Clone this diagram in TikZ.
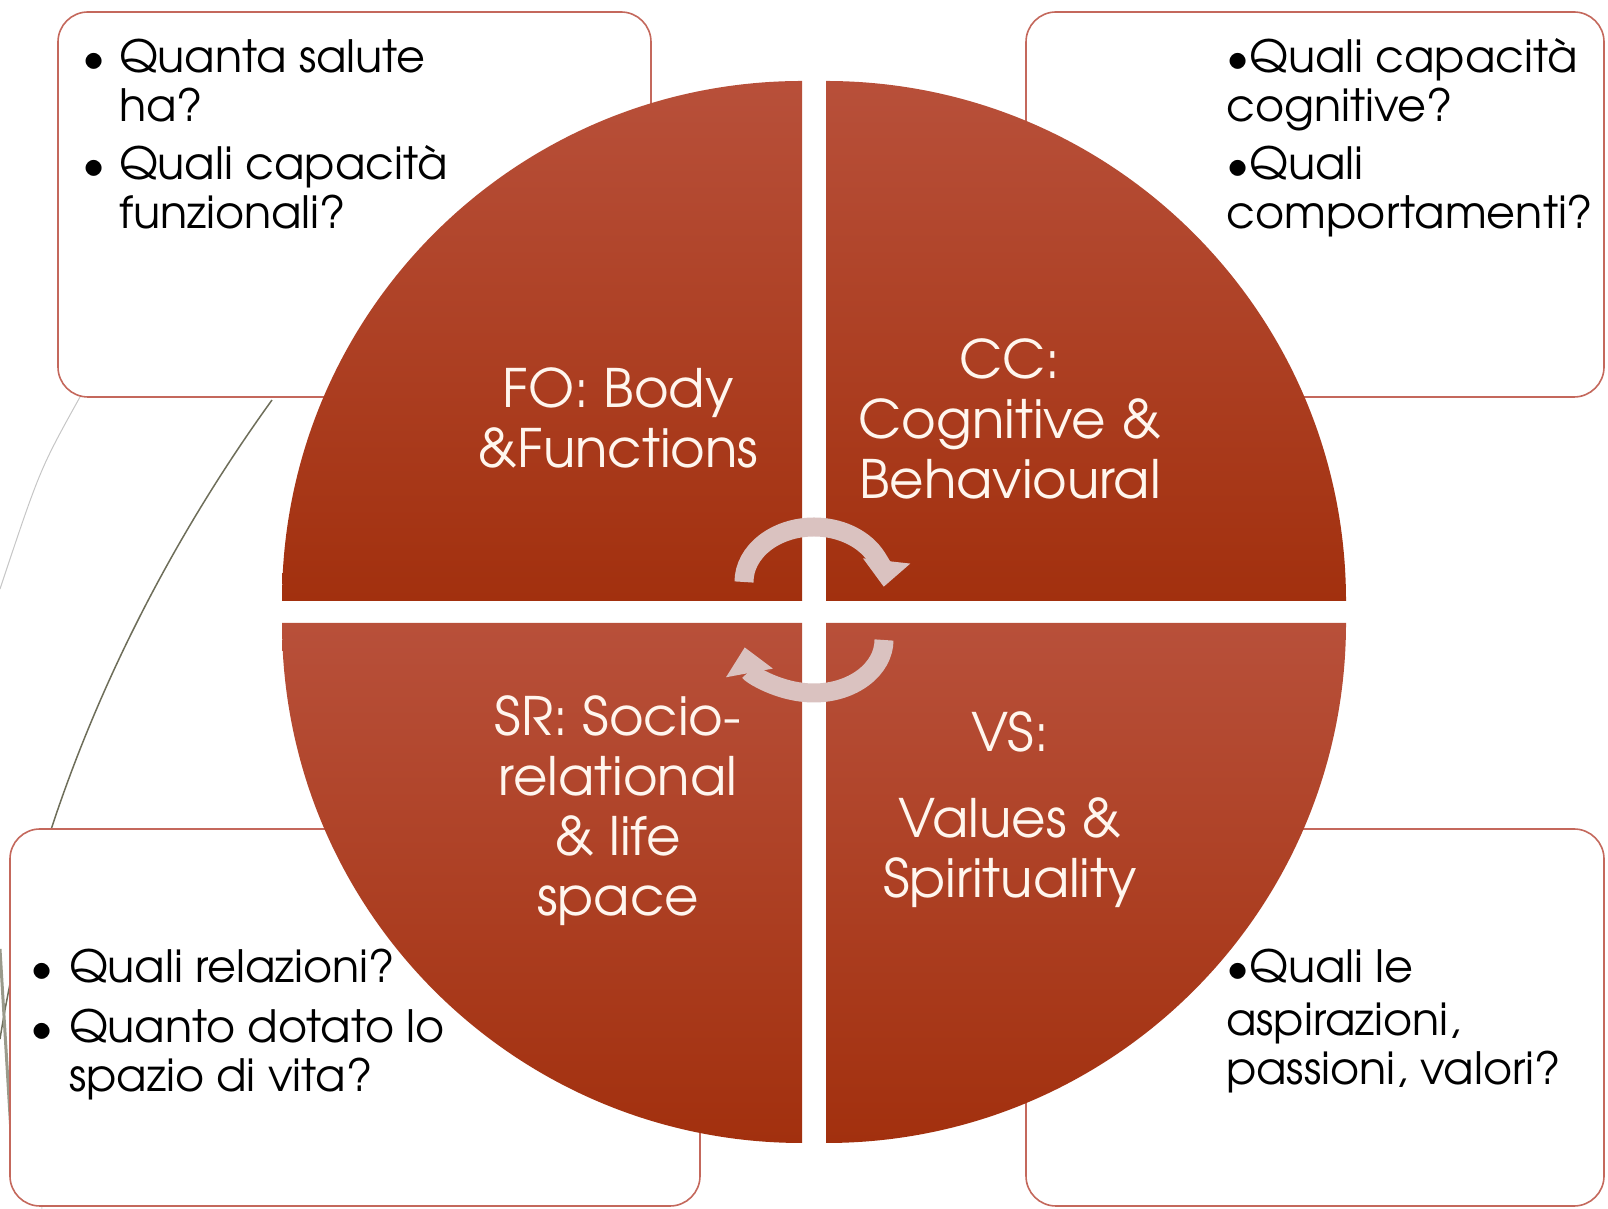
\documentclass[tikz,border=0pt]{standalone}
\usepackage{fontspec}
\setmainfont{TeX Gyre Adventor}
\usetikzlibrary{arrows.meta}

\definecolor{boxline}{RGB}{196,104,92}
\definecolor{pietop}{RGB}{184,80,58}
\definecolor{piebot}{RGB}{162,48,14}
\definecolor{turnfill}{RGB}{218,194,192}
\definecolor{pietext}{RGB}{255,246,238}
\definecolor{trunk}{RGB}{110,110,90}

\tikzset{
  qbox/.style={draw=boxline, line width=1.6pt, fill=white, rounded corners=30pt},
  pie/.style={top color=pietop, bottom color=piebot, draw=none},
  label/.style={text=pietext, anchor=base, inner sep=0pt,
    font=\fontsize{53}{60}\selectfont},
  ask/.style={text=black, anchor=base west, inner sep=0pt,
    font=\fontsize{44.5}{49}\selectfont},
  turn/.style={draw=turnfill, line width=19pt,
    -{Triangle[length=26pt,width=46pt]}}
}

\begin{document}
\begin{tikzpicture}[x=1pt,y=1pt]
  \useasboundingbox (0,0) rectangle (1608,1209);

  % background strokes
  \draw[gray!45, line width=1pt] (80,812) .. controls (40,740) .. (0,620);
  \draw[trunk, line width=1.5pt] (272,809) .. controls (150,640) and (40,420) .. (0,170);
  \draw[trunk!70, line width=3pt] (0,260) -- (12,60);
  \draw[gray!30, line width=1pt] (14,330) .. controls (20,200) .. (42,0);

  % question boxes
  \draw[qbox] (58,812) rectangle (651,1197);
  \draw[qbox] (1026,812) rectangle (1604,1197);
  \draw[qbox] (10,3) rectangle (700,380);
  \draw[qbox] (1026,3) rectangle (1604,380);

  % quarters
  \path[pie] (802,608) -- ++(-520,0) arc[start angle=180, end angle=90, radius=520] -- cycle;
  \path[pie] (826,608) -- ++(0,520) arc[start angle=90, end angle=0, radius=520] -- cycle;
  \path[pie] (802,586) -- ++(0,-520) arc[start angle=270, end angle=180, radius=520] -- cycle;
  \path[pie] (826,586) -- ++(520,0) arc[start angle=0, end angle=-90, radius=520] -- cycle;

  % cycle arrows
  \draw[turn] (814,627) ++(180:70 and 55) arc[start angle=180, end angle=-5, x radius=70, y radius=55];
  \draw[turn] (814,569) ++(0:70 and 53) arc[start angle=0, end angle=-172, x radius=70, y radius=53];

  % quarter labels
  \node[label] (fo) at (618,801) {\begin{tabular}[t]{@{}c@{}}FO: Body\\\&Functions\end{tabular}};
  \node[label] (cc) at (1010,830) {\begin{tabular}[t]{@{}c@{}}CC:\\Cognitive \&\\Behavioural\end{tabular}};
  \node[label] (sr) at (618,473) {\begin{tabular}[t]{@{}c@{}}SR: Socio-\\relational\\\& life\\space\end{tabular}};
  \node[label] (vs) at (1010,457) {\begin{tabular}[t]{@{}c@{}}VS:\\[26pt]Values \&\\Spirituality\end{tabular}};

  % questions
  \node[ask] (foask) at (82,1136) {\begin{tabular}[t]{@{}p{37pt}@{}l@{}}
    \textbullet & Quanta salute\\
                & ha?\\[9pt]
    \textbullet & Quali capacit\`a\\
                & funzionali?
  \end{tabular}};
  \node[ask] (ccask) at (1226,1136) {\begin{tabular}[t]{@{}l@{}}
    \textbullet Quali capacit\`a\\
    cognitive?\\[9pt]
    \textbullet Quali\\
    comportamenti?
  \end{tabular}};
  \node[ask] (srask) at (30,226) {\begin{tabular}[t]{@{}p{39pt}@{}l@{}}
    \textbullet & Quali relazioni?\\[11pt]
    \textbullet & Quanto dotato lo\\
                & spazio di vita?
  \end{tabular}};
  \node[ask] (vsask) at (1226,226) {\begin{tabular}[t]{@{}l@{}}
    \textbullet Quali le\\[4pt]
    aspirazioni,\\
    passioni, valori?
  \end{tabular}};
\end{tikzpicture}
\end{document}
